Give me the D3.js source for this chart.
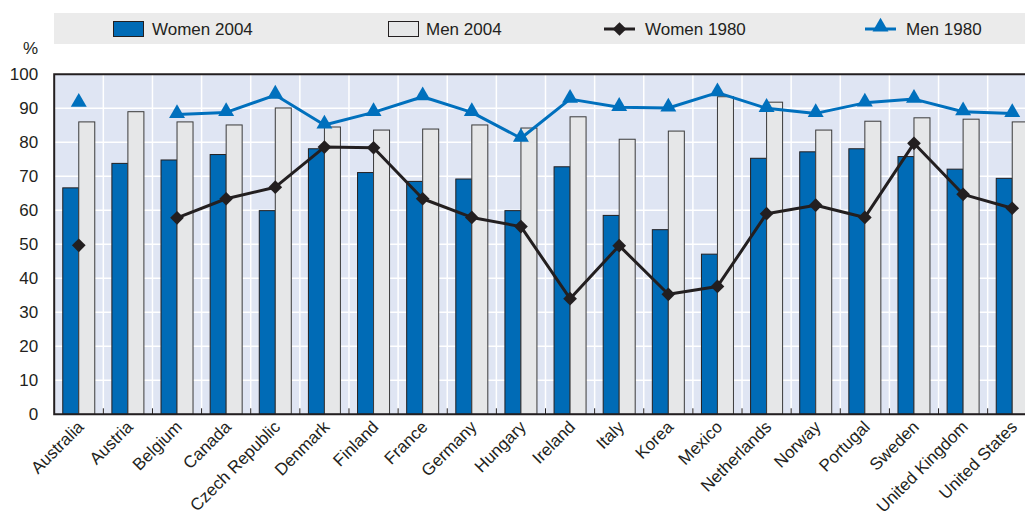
<!DOCTYPE html>
<html>
<head>
<meta charset="utf-8">
<script src="https://cdn.jsdelivr.net/npm/d3@7/dist/d3.min.js"></script>
<style>
  body { margin: 0; background: #fff; }
  svg text { font-family: "Liberation Sans", Arial, sans-serif; fill: #231f20; }
</style>
</head>
<body>
<svg id="chart" width="1025" height="513"></svg>
<script>
// data (% employment rate)
var countries = ["Australia", "Austria", "Belgium", "Canada", "Czech Republic", "Denmark", "Finland",
  "France", "Germany", "Hungary", "Ireland", "Italy", "Korea", "Mexico", "Netherlands", "Norway",
  "Portugal", "Sweden", "United Kingdom", "United States"];
var women2004 = [66.6, 73.8, 74.8, 76.4, 59.9, 78.1, 71.1, 68.5, 69.2, 59.9, 72.8, 58.5, 54.3, 47.1, 75.3, 77.2, 78.1, 75.8, 72.1, 69.4];
var men2004 = [86.0, 89.0, 86.0, 85.1, 90.1, 84.5, 83.6, 83.9, 85.1, 84.2, 87.5, 80.9, 83.3, 93.4, 91.8, 83.6, 86.2, 87.2, 86.8, 86.0];
var women1980 = [49.7, null, 57.8, 63.4, 66.8, 78.6, 78.4, 63.4, 57.9, 55.2, 34.0, 49.6, 35.3, 37.6, 59.0, 61.5, 57.9, 79.7, 64.7, 60.6];
var men1980 = [91.5, null, 88.2, 88.8, 93.9, 85.1, 88.8, 93.4, 88.8, 81.2, 92.7, 90.3, 90.1, 94.6, 90.0, 88.5, 91.6, 92.7, 89.0, 88.5];
var yTicks = [0, 10, 20, 30, 40, 50, 60, 70, 80, 90, 100];

var colWomen04 = "#006bb6", colMen04 = "#e6e7e8", colWomen80 = "#231f20", colMen80 = "#0070bd";

var svg = d3.select("#chart");
var pLeft = 54.2, pRight = 1036.8, pTop = 74.3, pBottom = 414.3;

var x = d3.scaleBand().domain(countries).range([pLeft, pRight]);
var y = d3.scaleLinear().domain([0, 100]).range([pBottom, pTop]);
var bw = 16;

function cx(i) { return x(countries[i]) + x.bandwidth() / 2; }
function points(arr) {
  var out = [];
  arr.forEach(function (v, i) { if (v !== null) out.push({i: i, v: v}); });
  return out;
}

// legend band
svg.append("rect").attr("x", 54).attr("y", 13).attr("width", 1000).attr("height", 31).attr("fill", "#ebebeb");
var leg = svg.append("g").attr("font-size", 17);
leg.append("rect").attr("x", 113.5).attr("y", 21.5).attr("width", 30).attr("height", 15)
  .attr("fill", colWomen04).attr("stroke", "#231f20");
leg.append("text").attr("x", 152).attr("y", 35).text("Women 2004");
leg.append("rect").attr("x", 388.5).attr("y", 21.5).attr("width", 30).attr("height", 15)
  .attr("fill", colMen04).attr("stroke", "#231f20");
leg.append("text").attr("x", 426).attr("y", 35).text("Men 2004");
leg.append("line").attr("x1", 604).attr("x2", 635).attr("y1", 29).attr("y2", 29)
  .attr("stroke", colWomen80).attr("stroke-width", 3);
leg.append("path").attr("transform", "translate(619.5,29)")
  .attr("d", d3.symbol(d3.symbolDiamond2, 120)).attr("fill", colWomen80);
leg.append("text").attr("x", 645).attr("y", 35).text("Women 1980");
leg.append("line").attr("x1", 865).attr("x2", 896).attr("y1", 29).attr("y2", 29)
  .attr("stroke", colMen80).attr("stroke-width", 3);
leg.append("path").attr("transform", "translate(880.5,27)")
  .attr("d", d3.symbol(d3.symbolTriangle, 110)).attr("fill", colMen80);
leg.append("text").attr("x", 906).attr("y", 35).text("Men 1980");

// plot background and grid
svg.append("rect").attr("x", pLeft).attr("y", pTop).attr("width", pRight - pLeft).attr("height", pBottom - pTop)
  .attr("fill", "#dfe5f3");
svg.append("g").selectAll("line").data(yTicks.slice(1, -1)).enter().append("line")
  .attr("x1", pLeft).attr("x2", pRight)
  .attr("y1", function (d) { return y(d); }).attr("y2", function (d) { return y(d); })
  .attr("stroke", "#fff").attr("stroke-width", 1.5);
svg.append("g").selectAll("line").data(countries.slice(1)).enter().append("line")
  .attr("x1", function (d) { return x(d); }).attr("x2", function (d) { return x(d); })
  .attr("y1", pTop).attr("y2", pBottom)
  .attr("stroke", "#fff").attr("stroke-width", 1.5);

// bars
svg.append("g").selectAll("rect").data(women2004).enter().append("rect")
  .attr("x", function (d, i) { return cx(i) - bw; })
  .attr("y", function (d) { return y(d); })
  .attr("width", bw).attr("height", function (d) { return pBottom - y(d); })
  .attr("fill", colWomen04).attr("stroke", "#231f20").attr("stroke-width", 1);
svg.append("g").selectAll("rect").data(men2004).enter().append("rect")
  .attr("x", function (d, i) { return cx(i); })
  .attr("y", function (d) { return y(d); })
  .attr("width", bw).attr("height", function (d) { return pBottom - y(d); })
  .attr("fill", colMen04).attr("stroke", "#3a3a3a").attr("stroke-width", 1);

// small ticks between categories at the bottom
svg.append("g").selectAll("line").data(countries.slice(1)).enter().append("line")
  .attr("x1", function (d) { return x(d); }).attr("x2", function (d) { return x(d); })
  .attr("y1", pBottom - 6).attr("y2", pBottom)
  .attr("stroke", "#231f20").attr("stroke-width", 1);

// lines
var lineGen = d3.line()
  .defined(function (d) { return d !== null; })
  .x(function (d, i) { return cx(i); })
  .y(function (d) { return y(d); });

svg.append("path").attr("d", lineGen(men1980)).attr("fill", "none")
  .attr("stroke", colMen80).attr("stroke-width", 3).attr("stroke-linejoin", "round");
svg.append("g").selectAll("path").data(points(men1980)).enter().append("path")
  .attr("transform", function (d) { return "translate(" + cx(d.i) + "," + (y(d.v) - 1) + ")"; })
  .attr("d", d3.symbol(d3.symbolTriangle, 110)).attr("fill", colMen80);

svg.append("path").attr("d", lineGen(women1980)).attr("fill", "none")
  .attr("stroke", colWomen80).attr("stroke-width", 3).attr("stroke-linejoin", "round");
svg.append("g").selectAll("path").data(points(women1980)).enter().append("path")
  .attr("transform", function (d) { return "translate(" + cx(d.i) + "," + y(d.v) + ")"; })
  .attr("d", d3.symbol(d3.symbolDiamond2, 120)).attr("fill", colWomen80);

// frame
svg.append("path")
  .attr("d", "M" + pRight + "," + pTop + "H" + pLeft + "V" + pBottom + "H" + pRight)
  .attr("fill", "none").attr("stroke", "#231f20").attr("stroke-width", 2);

// y axis labels
var yAxis = d3.axisLeft(y).tickValues(yTicks).tickSize(0).tickPadding(16);
var ya = svg.append("g").attr("transform", "translate(" + pLeft + ",0)").call(yAxis);
ya.select(".domain").remove();
ya.selectAll("text").attr("font-size", 17).attr("font-family", null);
ya.attr("font-family", null);
svg.append("text").attr("x", 38).attr("y", 54).attr("text-anchor", "end").attr("font-size", 17).text("%");

// x labels
svg.append("g").selectAll("text").data(countries).enter().append("text")
  .attr("transform", function (d, i) { return "translate(" + (cx(i) + 6) + ",428) rotate(-45)"; })
  .attr("text-anchor", "end").attr("font-size", 17).text(function (d) { return d; });
</script>
</body>
</html>
